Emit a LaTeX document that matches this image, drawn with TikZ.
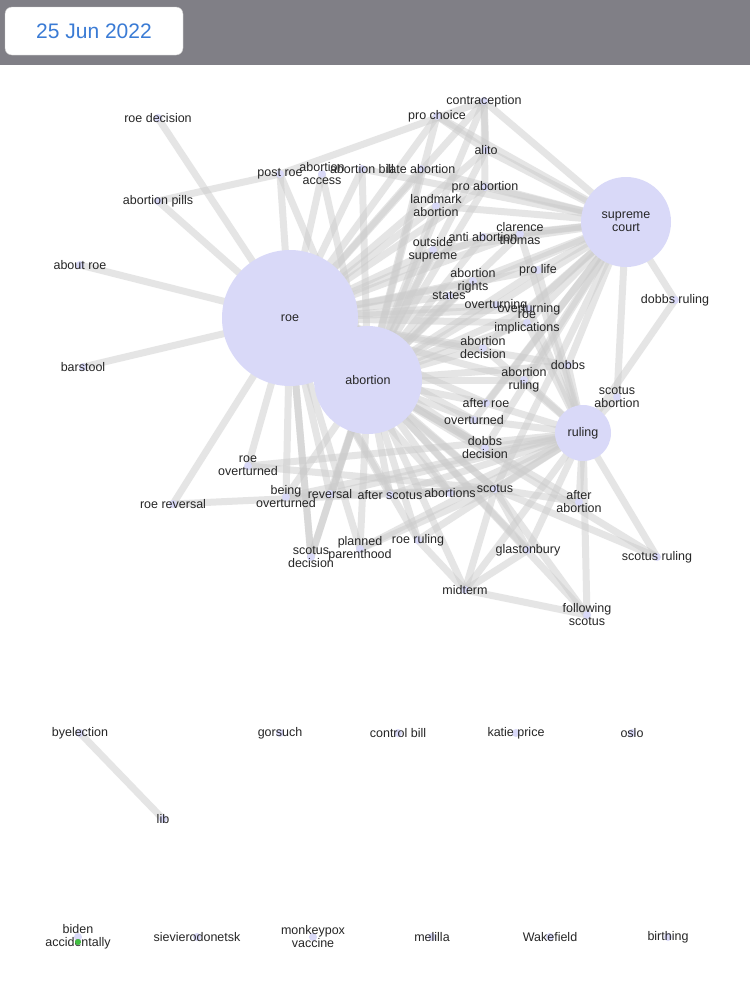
\documentclass[tikz,border=0pt]{standalone}
\usepackage{fontspec}
\setmainfont{Liberation Sans}
\begin{document}
\begin{tikzpicture}[x=1pt,y=-1pt,
 edge/.style={line width=7pt,draw=gray!40,opacity=0.5},
 hub/.style={circle,fill=hubc,inner sep=0pt},
 dot/.style={circle,fill=hubc,inner sep=0pt,minimum size=8pt},
 lab/.style={align=center,font=\fontsize{12.5}{13}\selectfont,text=black!85,inner sep=0pt}]
\definecolor{hubc}{HTML}{D9D9F8}
\definecolor{bar}{HTML}{807F86}
\definecolor{dblue}{HTML}{3A7BD5}
\useasboundingbox (0,0) rectangle (750,994);
\fill[white] (0,0) rectangle (750,994);
\fill[bar] (0,0) rectangle (750,65);
\node[draw=black!20,fill=white,rounded corners=7pt,minimum width=178pt,minimum height=48pt,inner sep=0pt,font=\fontsize{21}{22}\selectfont,text=dblue] (date) at (94,31) {25 Jun 2022};
% coordinates
\foreach \n/\x/\y in {roe/290/318,abo/368/380,sup/626/222,rul/583/433,
 rd/158/118,ap/158/201,abr/80/265,bs/83/367,pr/280/174,ac/322/174,ab/362/169,la/421/169,
 con/484/101,pc/437/116,al/486/150,pa/485/187,lm/436/206,ct/520/234,aa/483/237,os/433/250,
 ar/473/281,pl/538/270,st/449/296,ov1/496/305,ov2/529/309,ri/527/323,ad/483/348,db/568/365,
 aru/524/380,sa/617/397,dr/675/300,aro/486/403,ovd/474/420,dd/485/448,sc/495/489,aft/579/502,
 sr/657/557,gl/528/550,mt/465/590,fs/587/615,rr/418/540,pp/360/549,sd/311/557,abs/450/493,
 as/390/495,rev/330/494,bo/286/497,ro/248/466,rre/173/504,
 bye/80/733,lib/163/819,gor/280/733,cb/398/733,kp/516/733,oslo/632/733,
 ba/78/937,sie/197/937,mv/313/937,mel/432/937,wak/550/937,bir/668/937}
 {\coordinate (\n) at (\x,\y);}
% edges
\foreach \c in {pr,ac,ab,la,con,pc,al,pa,lm,ct,aa,os,ar,pl,st,ov1,ov2,ri,ad,db,aru,aro,ovd,dd,sc,abs,as,rev,bo,rr,pp,sd}
 {\draw[edge] (roe) -- (\c); \draw[edge] (abo) -- (\c);}
\foreach \c in {con,pc,al,pa,lm,ct,aa,os,ar,pl,st,ov1,ov2,ri,ad,db,aru,sa,dr,aro,ovd,dd,sc,la,ab}
 {\draw[edge] (sup) -- (\c);}
\foreach \c in {ct,pl,ov2,ri,ad,db,aru,sa,dr,aro,ovd,dd,sc,aft,sr,gl,fs,abs,as,rev,rr,pp,bo,ro}
 {\draw[edge] (rul) -- (\c);}
\foreach \a/\b in {rd/roe,ap/roe,abr/roe,bs/roe,ro/roe,rre/roe,rre/sc,sd/roe,sd/abo,
 mt/sc,mt/gl,mt/fs,mt/rr,mt/abo,mt/rul,fs/sc,fs/abo,sr/sc,sr/abo,gl/sc,gl/abo,aft/abo,aft/sc,
 pr/ap,pr/con,con/al,pc/al,con/pa,sc/pp,sc/as,ro/sc,bo/sc,bye/lib}
 {\draw[edge] (\a) -- (\b);}
% hubs
\node[hub,minimum size=136pt] (roeH) at (roe) {}; \node[lab] at (roe) {roe};
\node[hub,minimum size=108pt] (aboH) at (abo) {}; \node[lab] at (abo) {abortion};
\node[hub,minimum size=90pt] (supH) at (sup) {}; \node[lab] at (sup) {supreme\\court};
\node[hub,minimum size=56pt] (rulH) at (rul) {}; \node[lab] at (rul) {ruling};
% small nodes
\foreach \n/\t in {rd/roe decision,ap/abortion pills,abr/about roe,bs/barstool,pr/post roe,
 ac/abortion\\access,ab/abortion bill,la/late abortion,con/contraception,pc/pro choice,al/alito,
 pa/pro abortion,lm/landmark\\abortion,ct/clarence\\thomas,aa/anti abortion,os/outside\\supreme,
 ar/abortion\\rights,pl/pro life,st/states,ov1/overturning,ov2/overturning,ri/roe\\implications,
 ad/abortion\\decision,db/dobbs,aru/abortion\\ruling,sa/scotus\\abortion,dr/dobbs ruling,
 aro/after roe,ovd/overturned,dd/dobbs\\decision,sc/scotus,aft/after\\abortion,sr/scotus ruling,
 gl/glastonbury,mt/midterm,fs/following\\scotus,rr/roe ruling,pp/planned\\parenthood,
 sd/scotus\\decision,abs/abortions,as/after scotus,rev/reversal,bo/being\\overturned,
 ro/roe\\overturned,rre/roe reversal,bye/byelection,lib/lib,gor/gorsuch,cb/control bill,
 kp/katie price,oslo/oslo,ba/biden\\accidentally,sie/sievierodonetsk,mv/monkeypox\\vaccine,
 mel/melilla,wak/Wakefield,bir/birthing}
 {\node[dot] at (\n) {}; \node[lab] (\n L) at (\n) {\t};}
\fill[green!50!gray] (78,942) circle (3pt);
\end{tikzpicture}
\end{document}
